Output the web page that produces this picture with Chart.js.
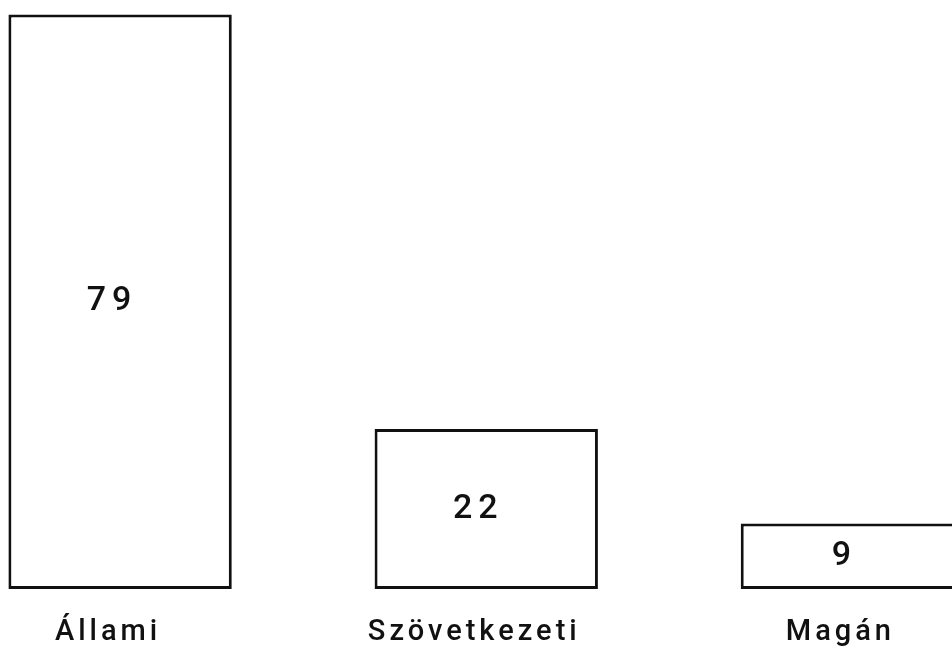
<!DOCTYPE html>
<html>
<head>
<meta charset="utf-8">
<script src="https://cdn.jsdelivr.net/npm/chart.js@4.4.1/dist/chart.umd.min.js"></script>
<style>
  html, body { margin: 0; padding: 0; background: #fff; overflow: hidden; }
  #wrap { width: 952px; height: 651px; position: relative; }
</style>
</head>
<body>
<div id="wrap"><canvas id="sectorChart"></canvas></div>
<script>
// categories and values
var sectors = ["Állami", "Szövetkezeti", "Magán"];
var shares = [79, 22, 9];

// bars sit on a linear x axis so the last one can run off the right edge
var points = sectors.map(function (name, i) {
  return { x: i, y: shares[i] };
});

// letter spaced text, like the typewritten original
var spacing = {
  id: 'spacing',
  beforeDraw: function (chart) {
    chart.ctx.letterSpacing = '4px';
  }
};

// value printed in the middle of each bar
var valueLabels = {
  id: 'valueLabels',
  afterDatasetsDraw: function (chart) {
    var ctx = chart.ctx;
    var meta = chart.getDatasetMeta(0);
    ctx.save();
    ctx.letterSpacing = '6px';
    ctx.font = '500 34px Roboto, "Liberation Sans", Arial, sans-serif';
    ctx.fillStyle = '#111';
    ctx.textAlign = 'center';
    ctx.textBaseline = 'middle';
    meta.data.forEach(function (bar, i) {
      ctx.fillText(String(shares[i]), bar.x - 8, (bar.y + bar.base) / 2);
    });
    ctx.restore();
  }
};

var canvas = document.getElementById("sectorChart");
var sectorChart = new Chart(canvas, {
  type: 'bar',
  data: {
    datasets: [
      {
        data: points,
        backgroundColor: '#fff',
        borderColor: '#111',
        borderWidth: 3,
        borderSkipped: false,
        categoryPercentage: 1,
        barPercentage: 0.61
      }
    ]
  },
  options: {
    responsive: true,
    maintainAspectRatio: false,
    animation: false,
    layout: { padding: { top: 0, right: 0, bottom: 5, left: 0 } },
    plugins: {
      legend: { display: false },
      tooltip: { enabled: false }
    },
    scales: {
      x: {
        type: 'linear',
        min: -0.328,
        max: 2.272,
        offset: false,
        grid: { display: false, drawTicks: false },
        border: { display: false },
        afterBuildTicks: function (scale) {
          scale.ticks = sectors.map(function (s, i) { return { value: i }; });
        },
        afterFit: function (scale) {
          scale.height = 57;
        },
        ticks: {
          autoSkip: false,
          maxRotation: 0,
          padding: 26,
          labelOffset: -12,
          color: '#111',
          font: { family: 'Roboto, "Liberation Sans", Arial, sans-serif', size: 29, weight: 500 },
          callback: function (value) { return sectors[value]; }
        }
      },
      y: {
        display: false,
        min: 0,
        max: 81
      }
    }
  },
  plugins: [spacing, valueLabels]
});
</script>
</body>
</html>
